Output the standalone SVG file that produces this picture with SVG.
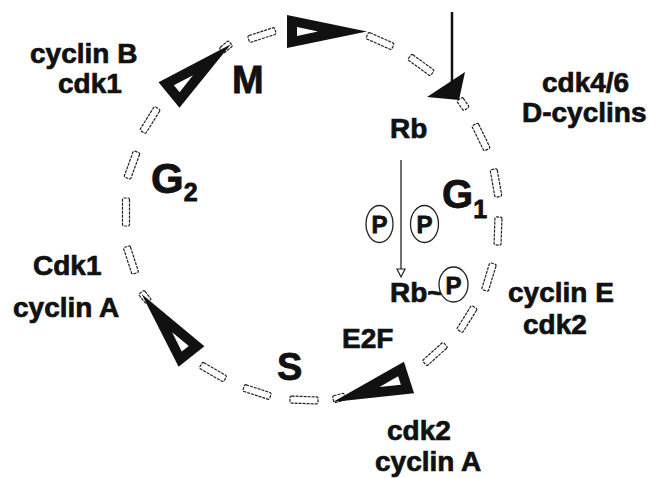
<svg xmlns="http://www.w3.org/2000/svg" xmlns:xlink="http://www.w3.org/1999/xlink" width="660" height="478" viewBox="0 0 660 478">
<style>
.t{font-family:"Liberation Sans",Arial,sans-serif;font-weight:bold;fill:#111;font-size:28px;stroke:#111;stroke-width:0.7}
.ph{font-family:"Liberation Sans",Arial,sans-serif;font-weight:bold;fill:#111;stroke:#111;stroke-width:0.8}
.d{fill:#fff;stroke:#222;stroke-width:1.2;stroke-dasharray:3 1}
.p{fill:#fff;stroke:#222;stroke-width:1.3}
</style>
<defs>
<g id="tri">
<polygon points="0,-16.5 0,16.5 80,0" fill="#111"/>
<polygon points="10,-4.5 10,4.5 31,0" fill="#fff"/>
</g>
<rect id="dash" x="-14" y="-3.5" width="28" height="7" rx="1.5" class="d"/>
<rect id="sd" x="-6" y="-3.5" width="12" height="7" rx="1.5" class="d"/>
</defs>
<rect width="660" height="478" fill="#fff"/>

<g id="connectors">
<g id="cycle-dashes">
<use xlink:href="#dash" transform="translate(262,35) rotate(-18)"/>
<use xlink:href="#dash" transform="translate(380,41) rotate(24)"/>
<use xlink:href="#dash" transform="translate(421,65) rotate(36)"/>
<use xlink:href="#dash" transform="translate(481,137) rotate(64)"/>
<use xlink:href="#dash" transform="translate(496,183) rotate(80)"/>
<use xlink:href="#dash" transform="translate(498,231) rotate(92)"/>
<use xlink:href="#dash" transform="translate(489,277) rotate(107)"/>
<use xlink:href="#dash" transform="translate(467,319) rotate(122)"/>
<use xlink:href="#dash" transform="translate(435,354) rotate(138)"/>
<use xlink:href="#dash" transform="translate(304,400) rotate(2)"/>
<use xlink:href="#dash" transform="translate(257,392) rotate(18)"/>
<use xlink:href="#dash" transform="translate(213,372) rotate(30)"/>
<use xlink:href="#dash" transform="translate(131,260) rotate(72)"/>
<use xlink:href="#dash" transform="translate(126,212) rotate(90)"/>
<use xlink:href="#dash" transform="translate(132,165) rotate(110)"/>
<use xlink:href="#dash" transform="translate(150,120) rotate(122)"/>
<use xlink:href="#sd" transform="translate(226,47) rotate(-40)"/>
<use xlink:href="#sd" transform="translate(145,297) rotate(52)"/>
<use xlink:href="#sd" transform="translate(463,104) rotate(55)"/>
<use xlink:href="#sd" transform="translate(339,398) rotate(-15)"/>
</g>
<g id="cycle-arrows">
<use xlink:href="#tri" transform="translate(287,31.5)"/>
<use xlink:href="#tri" transform="translate(169,95) rotate(-39.3)"/>
<use xlink:href="#tri" transform="translate(191.5,356.5) rotate(-128.6)"/>
<use xlink:href="#tri" transform="translate(409,377.5) rotate(162.1)"/>
</g>
<g id="entry-arrow">
<line x1="452" y1="12" x2="452" y2="88" stroke="#111" stroke-width="2.5"/>
<polygon points="427,97 465,72 459,100" fill="#111"/>
</g>
<g id="rb-arrow">
<line x1="401" y1="160" x2="401" y2="270" stroke="#222" stroke-width="1.3"/>
<polygon points="397,269 405,269 401,277" fill="#fff" stroke="#222" stroke-width="1.2"/>
</g>
</g>

<g id="phase-M"><text class="ph" x="232" y="93" font-size="38">M</text></g>
<g id="phase-G2"><text class="ph" x="151" y="193" font-size="42">G<tspan font-size="25" dy="8">2</tspan></text></g>
<g id="phase-G1"><text class="ph" x="442" y="208" font-size="40">G<tspan font-size="25" dy="10">1</tspan></text></g>
<g id="phase-S"><text class="ph" x="277" y="380" font-size="38">S</text></g>

<g id="cyclinB-cdk1"><text class="t" x="30" y="63">cyclin B</text><text class="t" x="58" y="93">cdk1</text></g>
<g id="cdk46-Dcyclins"><text class="t" x="542" y="92">cdk4/6</text><text class="t" x="522" y="122">D-cyclins</text></g>
<g id="Cdk1-cyclinA"><text class="t" x="33" y="275">Cdk1</text><text class="t" x="13" y="317">cyclin A</text></g>
<g id="cyclinE-cdk2"><text class="t" x="508" y="302">cyclin E</text><text class="t" x="523" y="334">cdk2</text></g>
<g id="cdk2-cyclinA"><text class="t" x="387" y="440">cdk2</text><text class="t" x="375" y="471">cyclin A</text></g>
<g id="E2F"><text class="t" x="342" y="348">E2F</text></g>
<g id="Rb"><text class="t" x="390" y="138">Rb</text></g>
<g id="P-left"><ellipse cx="379.5" cy="224" rx="13.5" ry="18.5" class="p"/><text class="ph" x="379.5" y="233" font-size="24" text-anchor="middle">P</text></g>
<g id="P-right"><ellipse cx="424.5" cy="224" rx="14" ry="18.5" class="p"/><text class="ph" x="424.5" y="233" font-size="24" text-anchor="middle">P</text></g>
<g id="Rb-P"><text class="t" x="390" y="302">Rb~</text><ellipse cx="453.5" cy="284.5" rx="14.5" ry="17.5" class="p"/><text class="ph" x="453.5" y="294" font-size="24" text-anchor="middle">P</text></g>
</svg>
